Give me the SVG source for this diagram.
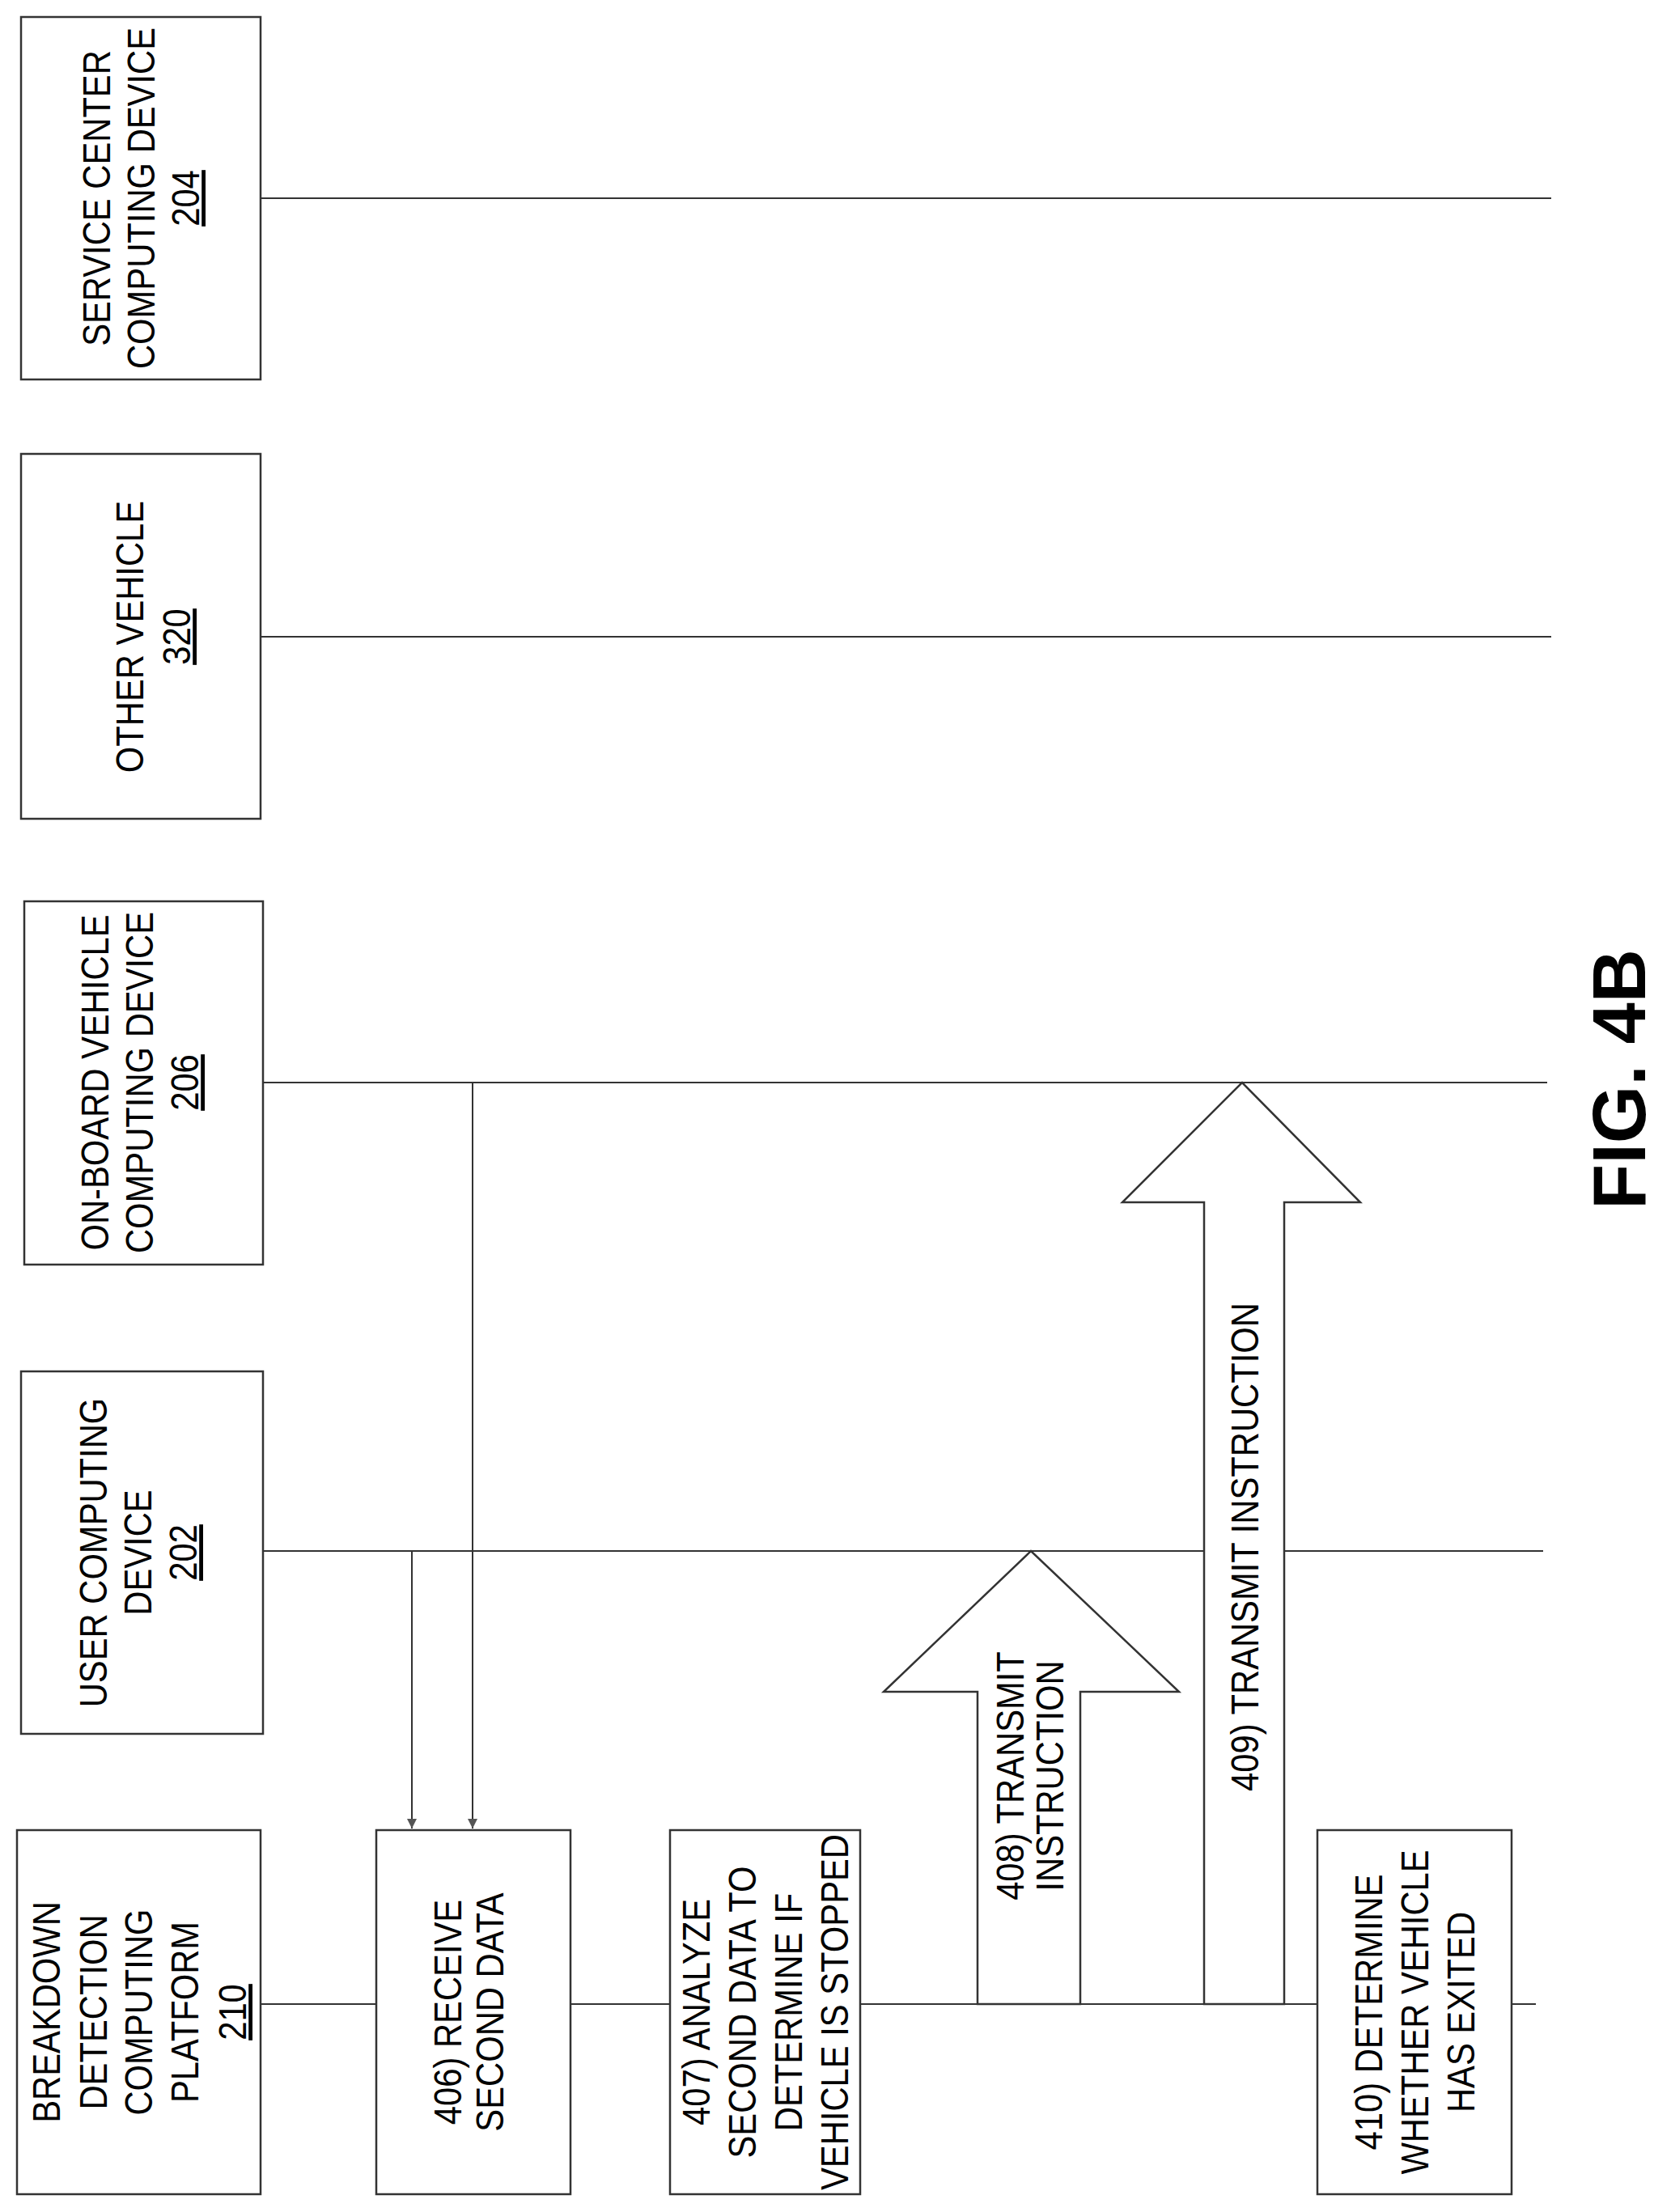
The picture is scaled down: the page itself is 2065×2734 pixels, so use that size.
<svg xmlns="http://www.w3.org/2000/svg" width="2065" height="2734" viewBox="0 0 2065 2734">
<style>
.b{fill:#fff;stroke:#333;stroke-width:2.5}
.l{stroke:#333;stroke-width:2;fill:none}
.t{font-family:"Liberation Sans",Arial,sans-serif;font-size:48px;fill:#000;text-anchor:middle}
.u{text-decoration:underline}
.f{font-family:"Liberation Sans",Arial,sans-serif;font-size:92px;font-weight:bold;text-anchor:middle}
</style>
<defs>
<marker id="ah" viewBox="0 0 10 10" refX="10" refY="5" markerWidth="12" markerHeight="12" markerUnits="userSpaceOnUse" orient="auto"><path d="M0,0L10,5L0,10z" fill="#555"/></marker>
</defs>
<rect width="2065" height="2734" fill="#fff"/>
<g id="connectors">
<line class="l" x1="322" y1="245" x2="1917" y2="245"/>
<line class="l" x1="322" y1="787" x2="1917" y2="787"/>
<line class="l" x1="325" y1="1338" x2="1912" y2="1338"/>
<line class="l" x1="325" y1="1917" x2="1907" y2="1917"/>
<line class="l" x1="322" y1="2477" x2="1898" y2="2477"/>
<line class="l" x1="509" y1="1917" x2="509" y2="2260" marker-end="url(#ah)"/>
<line class="l" x1="584" y1="1338" x2="584" y2="2260" marker-end="url(#ah)"/>
<polygon class="b" points="1208,2477 1208,2091 1092,2091 1274,1917 1457,2091 1335,2091 1335,2477"/>
<polygon class="b" points="1488,2477 1488,1486 1387,1486 1535,1338 1681,1486 1587,1486 1587,2477"/>
</g>
<g id="n204"><rect class="b" x="26" y="21" width="296" height="448"/>
<text class="t" transform="translate(0,245) rotate(-90) scale(0.87,1)"><tspan x="0" y="136">SERVICE CENTER</tspan><tspan x="0" y="191">COMPUTING DEVICE</tspan><tspan class="u" x="0" y="246">204</tspan></text></g>
<g id="n320"><rect class="b" x="26" y="561" width="296" height="451"/>
<text class="t" transform="translate(0,787) rotate(-90) scale(0.87,1)"><tspan x="0" y="177">OTHER VEHICLE</tspan><tspan class="u" x="0" y="235">320</tspan></text></g>
<g id="n206"><rect class="b" x="30" y="1114" width="295" height="449"/>
<text class="t" transform="translate(0,1338) rotate(-90) scale(0.87,1)"><tspan x="0" y="134">ON-BOARD VEHICLE</tspan><tspan x="0" y="189">COMPUTING DEVICE</tspan><tspan class="u" x="0" y="245">206</tspan></text></g>
<g id="n202"><rect class="b" x="26" y="1695" width="299" height="448"/>
<text class="t" transform="translate(0,1919) rotate(-90) scale(0.87,1)"><tspan x="0" y="132">USER COMPUTING</tspan><tspan x="0" y="187">DEVICE</tspan><tspan class="u" x="0" y="243">202</tspan></text></g>
<g id="n210"><rect class="b" x="21" y="2262" width="301" height="450"/>
<text class="t" transform="translate(0,2487) rotate(-90) scale(0.87,1)"><tspan x="0" y="74">BREAKDOWN</tspan><tspan x="0" y="132">DETECTION</tspan><tspan x="0" y="188">COMPUTING</tspan><tspan x="0" y="245">PLATFORM</tspan><tspan class="u" x="0" y="304">210</tspan></text></g>
<g id="n406"><rect class="b" x="465" y="2262" width="240" height="450"/>
<text class="t" transform="translate(0,2487) rotate(-90) scale(0.87,1)"><tspan x="0" y="570">406) RECEIVE</tspan><tspan x="0" y="622">SECOND DATA</tspan></text></g>
<g id="n407"><rect class="b" x="828" y="2262" width="235" height="450"/>
<text class="t" transform="translate(0,2487) rotate(-90) scale(0.87,1)"><tspan x="0" y="877">407) ANALYZE</tspan><tspan x="0" y="934">SECOND DATA TO</tspan><tspan x="0" y="991">DETERMINE IF</tspan><tspan x="0" y="1048">VEHICLE IS STOPPED</tspan></text></g>
<g id="n410"><rect class="b" x="1628" y="2262" width="240" height="450"/>
<text class="t" transform="translate(0,2487) rotate(-90) scale(0.87,1)"><tspan x="0" y="1708">410) DETERMINE</tspan><tspan x="0" y="1765">WHETHER VEHICLE</tspan><tspan x="0" y="1822">HAS EXITED</tspan></text></g>
<g id="l408"><text class="t" transform="translate(0,2195) rotate(-90) scale(0.87,1)"><tspan x="0" y="1265">408) TRANSMIT</tspan><tspan x="0" y="1314">INSTRUCTION</tspan></text></g>
<g id="l409"><text class="t" transform="translate(0,1912) rotate(-90) scale(0.87,1)"><tspan x="0" y="1555">409) TRANSMIT INSTRUCTION</tspan></text></g>
<text class="f" transform="translate(2033,1334) rotate(-90)">FIG. 4B</text>
</svg>
